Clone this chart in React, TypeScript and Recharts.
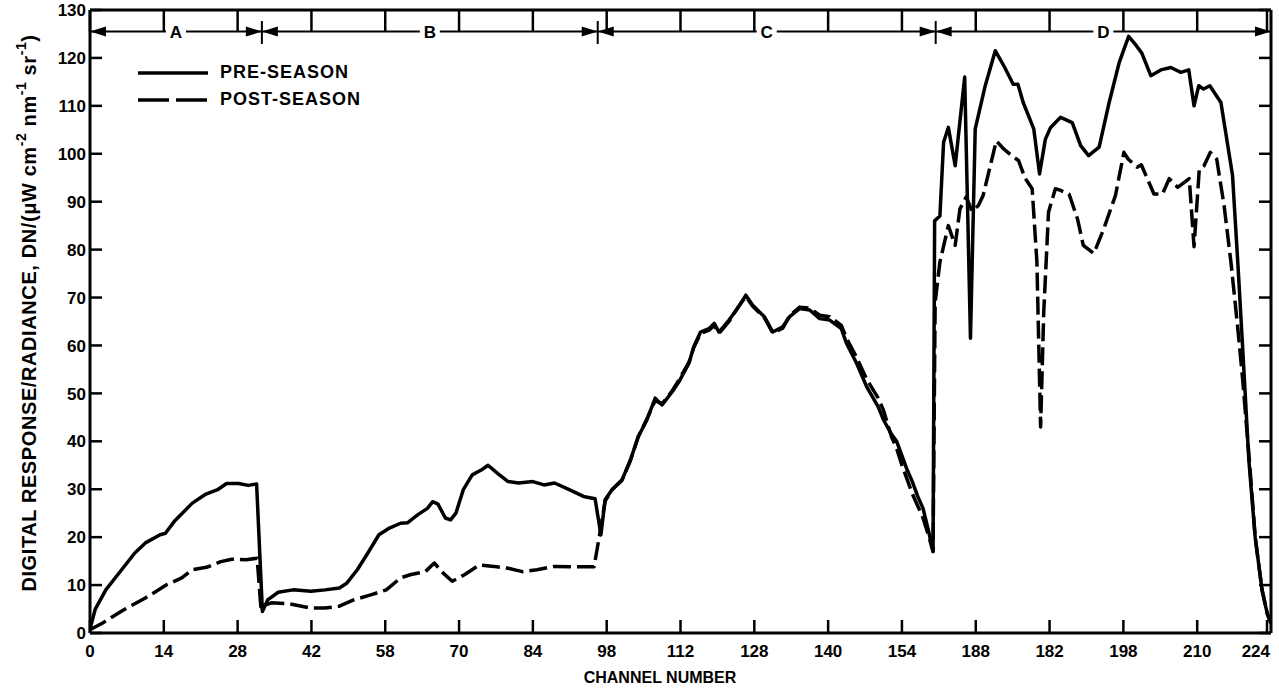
import React from 'react';
import { ComposedChart, Line, Scatter, XAxis, YAxis, ReferenceLine, Label, Legend } from 'recharts';

// pre-season (solid) trace, channel -> DN per unit radiance
const preChannels = [
  0, 1, 3, 6, 8.5, 10.5, 13.3, 14.3, 16, 19.4, 22, 24.2, 25.9, 28.2, 30, 31.6,
  32.7, 33.7, 35.7, 38.5, 41.9, 44.6, 47.3, 48.7, 50.7, 52.7, 54.8, 56.8, 58.9, 60.2, 62.2, 64, 65, 66, 67.4, 68.4,
  69.4, 70.8, 72.5, 74.2, 75.5, 77.3, 79.3, 81.3, 84, 86.1, 88.1, 90.9, 93.6, 95.8, 96.9, 97.7,
  99, 100.9, 102.5, 104, 105.6, 107.2, 108.5, 110.4, 111.7, 113.6, 114.5, 115.8, 117.4, 118.4, 119.3, 121.2, 122.8,
  124.4, 125.7, 127.9, 129.5, 131.4, 132.7, 134.6, 136.5, 138.4, 140.3, 142.5, 143.5, 145.4, 147.3, 149.5, 150.5,
  152, 153, 154, 155, 156, 157, 158, 159, 159.9,
  160.2, 161.2, 161.9, 162.8, 164.1, 165.9, 167, 167.9, 169.8, 171.7, 173.5, 175.1, 176, 177, 179, 180.1, 181.2,
  182.2, 184.1, 186.3, 187.9, 189.4, 191.4, 193.3, 195.2, 197, 198.5, 199.5, 201.2, 203.1, 205, 206.9, 208.4, 209.4,
  210.3, 211.2, 212.4, 214.5, 216.7, 217.7, 218.6, 219.8, 221, 222.3, 223.3, 224,
];
const preValues = [
  0.8, 5, 9, 13.2, 16.7, 18.8, 20.5, 20.8, 23.3, 27.1, 29, 29.9, 31.2, 31.2, 30.8, 31.1,
  4.5, 6.9, 8.5, 9, 8.7, 9, 9.4, 10.4, 13.2, 16.7, 20.5, 21.9, 22.9, 23, 24.7, 26, 27.4, 26.9, 24, 23.6,
  25, 29.9, 33, 34, 35, 33.3, 31.6, 31.3, 31.6, 30.9, 31.3, 29.9, 28.5, 28, 20.5, 27.8,
  29.9, 31.9, 36.1, 41, 44.4, 49, 47.6, 50.3, 52.4, 56.3, 59.7, 62.8, 63.5, 64.6, 62.8, 65.3, 67.7,
  70.5, 68.4, 66, 62.8, 63.9, 66, 67.7, 67.4, 65.6, 65.3, 63.5, 60.4, 56.3, 51.4, 47.2, 44.5,
  41.5, 40, 37, 34, 31.5, 28.5, 26, 21.5, 17,
  86, 87, 102.4, 105.5, 97.5, 116, 61.5, 105.2, 114.2, 121.5, 118, 114.5, 114.5, 110.7, 105.2, 95.8, 103,
  105.5, 107.6, 106.5, 101.7, 99.6, 101.4, 110.7, 119, 124.5, 122.5, 121, 116.3, 117.5, 118, 117, 117.5, 110,
  114.2, 113.5, 114.2, 110.7, 95.5, 77.4, 60, 36, 20, 9, 4, 2,
];

// post-season (dashed) trace
const postChannels = [
  0, 2.4, 6.5, 10.5, 14.6, 17.4, 19.4, 22.1, 24.8, 26.9, 29.6, 31.7,
  32.4, 34.4, 37.8, 41.9, 44.6, 47.3, 50, 53.4, 56.2, 58.9, 60.9, 63.6, 65.3, 67, 68.7, 71.1, 73.8, 76.6, 79.3, 82,
  84.8, 88.1, 90.9, 95.6, 96.6, 97.7,
  99, 100.9, 102.5, 104, 105.6, 107.2, 108.5, 110.4, 111.7, 113.6, 114.5, 115.8, 117.4, 118.4, 119.3, 121.2, 122.8,
  124.4, 125.7, 127.9, 129.5, 131.4, 132.7, 134.6, 136.5, 138.4, 140.3, 142.5, 143.5, 145.4, 147.3, 149.5, 150.5,
  152, 153, 154, 155, 156, 157, 158, 159, 159.9,
  160.3, 161.2, 162.8, 164.1, 165, 166.2, 167.3, 168.5, 169.4, 171.9, 173.3, 175.2, 176.1, 177.4, 178.7, 179.6,
  180.3, 180.9, 181.8, 183.1, 184, 185.7, 187.3, 188.4, 190.4, 192.3, 194.5, 196.1, 196.9, 198.6, 199.4, 201.8,
  203.4, 204.7, 206.3, 208.5, 209.4, 210.4, 211.3, 212.5, 213.7, 215.1, 216.4, 217.7, 218.6, 219.9, 221, 222.3,
  223.3, 224,
];
const postValues = [
  0.7, 2.1, 4.9, 7.3, 10.1, 11.5, 13.2, 13.7, 14.9, 15.4, 15.3, 15.6,
  5.5, 6.3, 6.1, 5.2, 5.2, 5.6, 6.9, 8, 9, 11.5, 12.2, 12.8, 14.6, 12.5, 10.8, 12.2, 14.2, 13.9, 13.5, 12.8,
  13.2, 13.9, 13.8, 13.8, 20.1, 27.5,
  29.9, 31.9, 36, 41, 44.6, 48.5, 47.8, 50.5, 52.8, 56.5, 59.5, 62.5, 63.2, 64.2, 62.5, 65, 67.8,
  70.2, 68.2, 65.8, 62.6, 63.6, 66.2, 68, 67.8, 66.3, 66, 64.2, 61.5, 57.5, 53, 49, 46.5,
  41, 38.5, 35, 32, 29, 26.5, 24, 20.5, 17,
  69, 77.4, 85, 80.9, 88.5, 91, 88, 89.2, 91.3, 102.7, 101, 99.3, 98.6, 94.8, 92.7, 77.4,
  43, 67, 87.8, 92.7, 92.4, 91.6, 86.4, 80.9, 79.2, 84.4, 91.3, 100.3, 98.9, 97.2, 97.7, 91.6,
  91.6, 94.8, 93, 94.8, 80.6, 96.8, 97.5, 100.3, 98.9, 89.2, 77.4, 63.6, 53.2, 36, 20, 9,
  4, 2,
];

const xTicks = [0, 14, 28, 42, 56, 70, 84, 98, 112, 126, 140, 154, 168, 182, 196, 210, 224];
const xTickLabels = ['0', '14', '28', '42', '58', '70', '84', '98', '112', '128', '140', '154', '188', '182', '198', '210', '224'];
const yTicks = [0, 10, 20, 30, 40, 50, 60, 70, 80, 90, 100, 110, 120, 130];

const regionNames = ['A', 'B', 'C', 'D'];
const regionBounds = [0, 32.6, 96.3, 160.4, 224];
const bandLevel = 125.5;

const legendItems = [
  { name: 'PRE-SEASON', dash: undefined },
  { name: 'POST-SEASON', dash: '31 7' },
];

const FONT = '"Liberation Sans", Arial, Helvetica, sans-serif';

// plot box in page pixels
const PLOT_TOP = 10;
const PLOT_BOTTOM = 633;
const PLOT_LEFT = 90;
const PLOT_RIGHT = 1271;
const BAND_Y = PLOT_BOTTOM - (bandLevel / 130) * (PLOT_BOTTOM - PLOT_TOP);

const preData = preChannels.map((ch, i) => ({ ch, v: preValues[i] }));
const postData = postChannels.map((ch, i) => ({ ch, v: postValues[i] }));
const arrowTips = regionNames.flatMap((_, i) => [
  { ch: regionBounds[i], v: bandLevel, dir: -1 },
  { ch: regionBounds[i + 1], v: bandLevel, dir: 1 },
]);
const regionLabels = regionNames.map((name, i) => ({
  ch: (regionBounds[i] + regionBounds[i + 1]) / 2,
  v: bandLevel,
  name,
}));

const ink = { stroke: '#000', strokeWidth: 2.5 };

// bottom tick (pointing up), matching top tick hanging to the band line, and label
const XTick = (props: any) => {
  const { x, y, payload, index } = props;
  const last = index === xTicks.length - 1;
  return (
    <g>
      <line x1={x} y1={y} x2={x} y2={y - 13} {...ink} />
      <line x1={x} y1={PLOT_TOP} x2={x} y2={BAND_Y} {...ink} />
      <text x={last ? x + 3 : x} y={y + 12} dy="0.71em" textAnchor={last ? 'end' : 'middle'}
        fontFamily={FONT} fontWeight={700} fontSize={17} fill="#000">
        {xTickLabels[xTicks.indexOf(payload.value)]}
      </text>
    </g>
  );
};

// left tick and the mirrored right-hand tick, both pointing inward
const YTick = (props: any) => {
  const { x, y, payload } = props;
  return (
    <g>
      <line x1={x} y1={y} x2={x + 12} y2={y} {...ink} />
      <line x1={PLOT_RIGHT - 12} y1={y} x2={PLOT_RIGHT} y2={y} {...ink} />
      <text x={x - 4} y={y} dy="0.36em" textAnchor="end" fontFamily={FONT} fontWeight={700} fontSize={17} fill="#000">
        {payload.value}
      </text>
    </g>
  );
};

const YTitle = () => (
  <text transform="translate(29, 313) rotate(-90)" textAnchor="middle" dominantBaseline="central"
    fontFamily={FONT} fontWeight={700} fontSize={20} letterSpacing={0.6} fill="#000">
    DIGITAL RESPONSE/RADIANCE, DN/(μW cm
    <tspan dy={-8} fontSize={14}>-2</tspan>
    <tspan dy={8}> nm</tspan>
    <tspan dy={-8} fontSize={14}>-1</tspan>
    <tspan dy={8}> sr</tspan>
    <tspan dy={-8} fontSize={14}>-1</tspan>
    <tspan dy={8}>)</tspan>
  </text>
);

const XTitle = () => (
  <text x={660} y={683} textAnchor="middle" fontFamily={FONT} fontWeight={700} fontSize={16} fill="#000">
    CHANNEL NUMBER
  </text>
);

const ArrowHead = (props: any) => {
  const { cx, cy, payload } = props;
  const d = payload.dir;
  return <polygon points={`${cx},${cy} ${cx - d * 16},${cy - 5} ${cx - d * 16},${cy + 5}`} fill="#000" />;
};

const RegionLetter = (props: any) => {
  const { cx, cy, payload } = props;
  return (
    <g>
      <rect x={cx - 10} y={cy - 10} width={20} height={20} fill="#fff" />
      <text x={cx} y={cy} dy="0.36em" textAnchor="middle" fontFamily={FONT} fontWeight={700} fontSize={17} fill="#000">
        {payload.name}
      </text>
    </g>
  );
};

const renderLegend = () => (
  <div style={{ fontFamily: FONT, fontWeight: 700, fontSize: 18, color: '#000' }}>
    {legendItems.map((item) => (
      <div key={item.name} style={{ display: 'flex', alignItems: 'center', height: 27 }}>
        <svg width={72} height={10}>
          <line x1={1} y1={5} x2={71} y2={5} stroke="#000" strokeWidth={3.5} strokeDasharray={item.dash} />
        </svg>
        <span style={{ marginLeft: 11, letterSpacing: 1 }}>{item.name}</span>
      </div>
    ))}
  </div>
);

export default function App() {
  return (
    <div style={{ position: 'absolute', left: 0, top: 0, width: 1279, height: 692, background: '#fff' }}>
      <ComposedChart width={1279} height={692}
        margin={{ top: PLOT_TOP, right: 1279 - PLOT_RIGHT, bottom: 0, left: 0 }}>
        <XAxis dataKey="ch" type="number" domain={[0, 224]} ticks={xTicks} allowDataOverflow
          height={692 - PLOT_BOTTOM} axisLine={false} tickLine={false} tickSize={0} tickMargin={0} tick={<XTick />}>
          <Label content={<XTitle />} />
        </XAxis>
        <YAxis dataKey="v" type="number" domain={[0, 130]} ticks={yTicks} allowDataOverflow width={PLOT_LEFT}
          axisLine={false} tickLine={false} tickSize={0} tickMargin={0} tick={<YTick />}>
          <Label content={<YTitle />} />
        </YAxis>

        {/* frame */}
        <ReferenceLine x={0} stroke="#000" strokeWidth={3} ifOverflow="visible" />
        <ReferenceLine x={224} stroke="#000" strokeWidth={3} ifOverflow="visible" />
        <ReferenceLine y={0} stroke="#000" strokeWidth={3} ifOverflow="visible" />
        <ReferenceLine y={130} stroke="#000" strokeWidth={3} ifOverflow="visible" />

        {/* region band A-D */}
        <ReferenceLine segment={[{ x: 0, y: bandLevel }, { x: 224, y: bandLevel }]}
          stroke="#000" strokeWidth={2} ifOverflow="visible" />
        {regionBounds.slice(1, -1).map((b) => (
          <ReferenceLine key={b} segment={[{ x: b, y: bandLevel - 2.6 }, { x: b, y: bandLevel + 2.2 }]}
            stroke="#000" strokeWidth={2} ifOverflow="visible" />
        ))}
        <Scatter data={arrowTips} shape={<ArrowHead />} isAnimationActive={false} legendType="none" />
        <Scatter data={regionLabels} shape={<RegionLetter />} isAnimationActive={false} legendType="none" />

        <Line data={preData} dataKey="v" name="PRE-SEASON" type="linear" stroke="#000" strokeWidth={3.5}
          dot={false} activeDot={false} isAnimationActive={false} strokeLinejoin="round" />
        <Line data={postData} dataKey="v" name="POST-SEASON" type="linear" stroke="#000" strokeWidth={3.5}
          strokeDasharray="18 6" dot={false} activeDot={false} isAnimationActive={false} strokeLinejoin="round" />

        <Legend layout="vertical" align="center" verticalAlign="middle" content={renderLegend}
          wrapperStyle={{ left: 137, top: 59, width: 'auto' }} />
      </ComposedChart>
    </div>
  );
}
